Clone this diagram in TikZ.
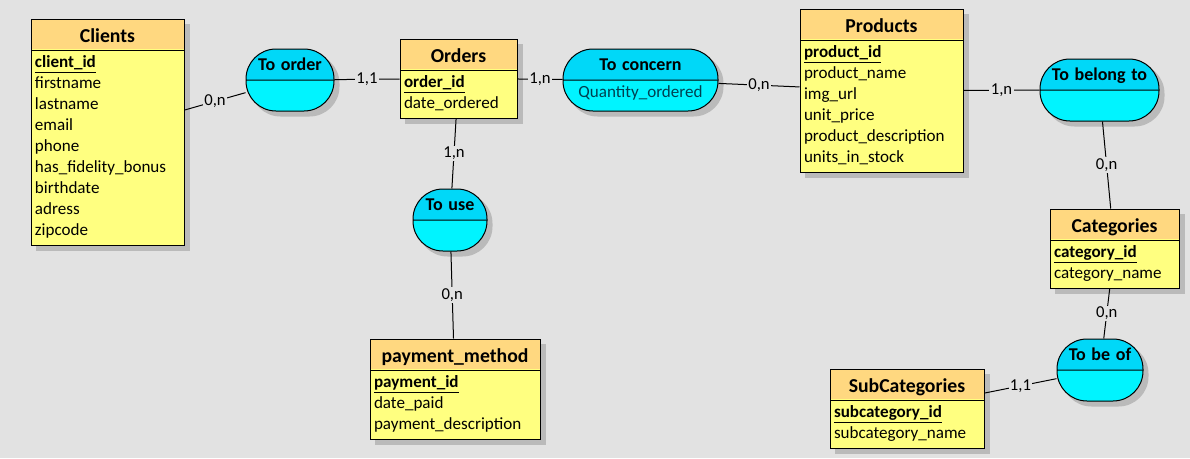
\documentclass[tikz,border=0pt]{standalone}
\usepackage{fontspec}
\setmainfont{Carlito}
\usetikzlibrary{shapes.multipart,backgrounds}

\definecolor{bgcol}{RGB}{226,226,226}
\definecolor{headcol}{RGB}{255,216,128}
\definecolor{bodycol}{RGB}{255,255,128}
\definecolor{assoctop}{RGB}{0,216,248}
\definecolor{assocbot}{RGB}{0,244,255}
\definecolor{shadowcol}{RGB}{186,186,186}
\definecolor{attrcol}{RGB}{0,64,80}

\newcommand{\enthead}[1]{\makebox[\hsize]{\fontsize{14.8}{16}\selectfont\rule[-5.5pt]{0pt}{22.5pt}\textbf{#1}}}
\newcommand{\pk}[1]{\rule{0pt}{13pt}\underline{\textbf{#1}}}
\newcommand{\attrend}{\rule[-6.5pt]{0pt}{6.5pt}}
\newcommand{\assochead}[1]{{\fontsize{13.5}{15}\selectfont\rule[-6.5pt]{0pt}{22.5pt}\textbf{#1}}}
\newcommand{\assocattr}[1]{\rule[-10pt]{0pt}{22.5pt}\textcolor{attrcol}{#1}}

\tikzset{
  entity/.style={rectangle split, rectangle split parts=2, draw, line width=0.75pt,
    fill=bodycol, inner xsep=3pt, inner ysep=0pt,
    align=left, font=\fontsize{12.8}{15.75}\selectfont,
    path picture={\fill[headcol] (path picture bounding box.north west)
      rectangle ([yshift=-22.5pt]path picture bounding box.north east);}},
  assoc/.style={rectangle split, rectangle split parts=2, draw, line width=0.75pt,
    rounded corners=22.5pt, fill=assocbot, inner sep=0pt, align=center,
    font=\fontsize{12.8}{15.75}\selectfont,
    path picture={\fill[assoctop, sharp corners] (path picture bounding box.north west)
      rectangle (path picture bounding box.east);}},
  card/.style={fill=bgcol, inner sep=1pt, font=\fontsize{12.5}{14}\selectfont},
  link/.style={line width=0.75pt}
}

\begin{document}
\begin{tikzpicture}[x=0.75pt, y=-0.75pt]
  % entities
  \node[entity, text width=108.75pt] (clients) at (107.5,132)
    {\enthead{Clients}\nodepart{two}\pk{client\_id}\\ firstname\\ lastname\\ email\\ phone\\
     has\_fidelity\_bonus\\ birthdate\\ adress\\ zipcode\attrend};
  \node[entity, text width=81.75pt] (orders) at (458.5,78.5)
    {\enthead{Orders}\nodepart{two}\pk{order\_id}\\ date\_ordered\attrend};
  \node[entity, text width=116.25pt] (products) at (881.5,90.5)
    {\enthead{Products}\nodepart{two}\pk{product\_id}\\ product\_name\\ img\_url\\ unit\_price\\
     product\_description\\ units\_in\_stock\attrend};
  \node[entity, text width=90.75pt] (categories) at (1114.5,248.5)
    {\enthead{Categories}\nodepart{two}\pk{category\_id}\\ category\_name\attrend};
  \node[entity, text width=109.5pt] (subcats) at (907,408.5)
    {\enthead{SubCategories}\nodepart{two}\pk{subcategory\_id}\\ subcategory\_name\attrend};
  \node[entity, text width=121.5pt] (payment) at (455,389)
    {\enthead{payment\_method}\nodepart{two}\pk{payment\_id}\\ date\_paid\\ payment\_description\attrend};

  % associations
  \node[assoc, text width=66pt] (toorder) at (290,80)
    {\assochead{To order}\nodepart{two}\assocattr{}};
  \node[assoc, text width=116.25pt] (toconcern) at (640.5,80)
    {\assochead{To concern}\nodepart{two}\assocattr{Quantity\_ordered}};
  \node[assoc, text width=55.5pt] (touse) at (450,220)
    {\assochead{To use}\nodepart{two}\assocattr{}};
  \node[assoc, text width=89.25pt] (tobelong) at (1099.5,90)
    {\assochead{To belong to}\nodepart{two}\assocattr{}};
  \node[assoc, text width=64.5pt] (tobeof) at (1100,370)
    {\assochead{To be of}\nodepart{two}\assocattr{}};

  % links
  \draw[link] (clients) -- node[card] {0,n} (toorder);
  \draw[link] (toorder) -- node[card] {1,1} (orders);
  \draw[link] (orders) -- node[card] {1,n} (toconcern);
  \draw[link] (toconcern) -- node[card] {0,n} (products);
  \draw[link] (products) -- node[card] {1,n} (tobelong);
  \draw[link] (tobelong) -- node[card] {0,n} (categories);
  \draw[link] (categories) -- node[card] {0,n} (tobeof);
  \draw[link] (tobeof) -- node[card] {1,1} (subcats);
  \draw[link] (orders) -- node[card] {1,n} (touse);
  \draw[link] (touse) -- node[card] {0,n} (payment);

  % background and shadows
  \begin{scope}[on background layer]
    \fill[bgcol] (0,0) rectangle (1190,458);
    \foreach \ent in {clients,orders,products,categories,subcats,payment}
      \fill[shadowcol] ([shift={(3.75pt,-3.75pt)}]\ent.north west)
        rectangle ([shift={(3.75pt,-3.75pt)}]\ent.south east);
    \foreach \asc in {toorder,toconcern,touse,tobelong,tobeof}
      \fill[shadowcol, rounded corners=22.5pt] ([shift={(3.75pt,-3.75pt)}]\asc.north west)
        rectangle ([shift={(3.75pt,-3.75pt)}]\asc.south east);
  \end{scope}
\end{tikzpicture}
\end{document}
